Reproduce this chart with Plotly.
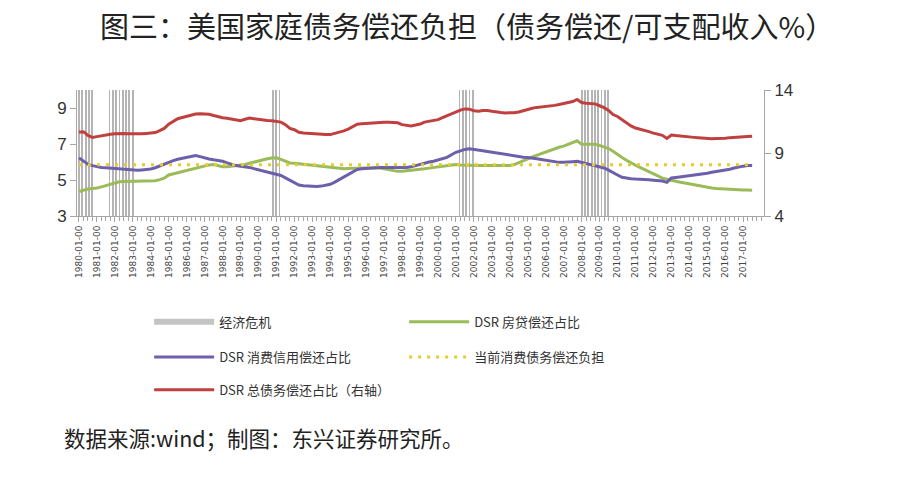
import numpy as np
import plotly.graph_objects as go

# ---------------- data ----------------
# quarterly observations, 1980Q1 .. 2017Q3 (decimal-year positions)
quarters = [1980 + i * 0.25 for i in range(151)]

dsr_total = [  # right axis
    10.64, 10.69, 10.40, 10.24,  10.30, 10.38, 10.43, 10.48,  10.52, 10.56, 10.55, 10.52,
    10.51, 10.50, 10.52, 10.55,  10.56, 10.62, 10.77, 10.95,  11.28, 11.50, 11.72, 11.82,
    11.92, 12.00, 12.10, 12.12,  12.12, 12.08, 11.98, 11.86,  11.80, 11.76, 11.70, 11.60,
    11.57, 11.68, 11.77, 11.72,  11.66, 11.62, 11.58, 11.56,  11.52, 11.45, 11.25, 10.95,
    10.85, 10.65, 10.58, 10.55,  10.52, 10.50, 10.48, 10.47,  10.46, 10.55, 10.68, 10.76,
    10.90, 11.10, 11.28, 11.33,  11.36, 11.40, 11.42, 11.44,  11.45, 11.45, 11.45, 11.40,
    11.25, 11.17, 11.15, 11.22,  11.30, 11.45, 11.52, 11.58,  11.65, 11.80, 11.96, 12.10,
    12.30, 12.40, 12.50, 12.48,  12.35, 12.32, 12.38, 12.38,  12.32, 12.25, 12.22, 12.18,
    12.17, 12.20, 12.25, 12.35,  12.50, 12.55, 12.62, 12.65,  12.68, 12.72, 12.78, 12.85,
    12.92, 13.00, 13.08, 13.25,  13.00, 12.95, 12.92, 12.90,  12.75, 12.60, 12.38, 12.05,
    11.90, 11.65, 11.35, 11.15,  10.98, 10.90, 10.80, 10.70,  10.58, 10.50, 10.40, 10.16,
    10.43, 10.38, 10.33, 10.30,  10.26, 10.24, 10.21, 10.18,  10.16, 10.14, 10.16, 10.15,
    10.18, 10.22, 10.25, 10.28,  10.32, 10.30, 10.32,
]

dsr_consumer = [
    6.23, 6.05, 5.88, 5.80,  5.74, 5.70, 5.68, 5.66,  5.64, 5.61, 5.59, 5.57,
    5.55, 5.54, 5.56, 5.58,  5.61, 5.68, 5.78, 5.88,  6.00, 6.08, 6.15, 6.20,
    6.25, 6.30, 6.36, 6.30,  6.22, 6.17, 6.12, 6.08,  6.04, 5.95, 5.86, 5.80,
    5.77, 5.74, 5.70, 5.63,  5.56, 5.50, 5.44, 5.38,  5.32, 5.25, 5.12, 4.98,
    4.85, 4.72, 4.68, 4.66,  4.64, 4.64, 4.66, 4.70,  4.76, 4.88, 5.02, 5.18,
    5.30, 5.45, 5.58, 5.62,  5.65, 5.67, 5.68, 5.70,  5.70, 5.70, 5.68, 5.67,
    5.68, 5.70, 5.73, 5.80,  5.88, 5.95, 6.00, 6.04,  6.10, 6.18, 6.26, 6.40,
    6.54, 6.62, 6.70, 6.73,  6.68, 6.65, 6.62, 6.58,  6.54, 6.50, 6.44, 6.40,
    6.36, 6.32, 6.29, 6.27,  6.25, 6.23, 6.18, 6.14,  6.10, 6.05, 6.00, 5.98,
    5.98, 5.98, 6.02, 6.04,  5.98, 5.92, 5.86, 5.80,  5.74, 5.67, 5.55, 5.40,
    5.28, 5.15, 5.10, 5.07,  5.05, 5.05, 5.03, 5.01,  4.99, 4.97, 4.94, 4.87,
    5.11, 5.14, 5.17, 5.20,  5.23, 5.26, 5.30, 5.34,  5.38, 5.43, 5.47, 5.51,
    5.54, 5.60, 5.67, 5.73,  5.77, 5.80, 5.80,
]

dsr_mortgage = [
    4.36, 4.45, 4.50, 4.53,  4.55, 4.62, 4.70, 4.76,  4.83, 4.90, 4.92, 4.92,
    4.92, 4.92, 4.92, 4.92,  4.92, 4.96, 5.02, 5.10,  5.28, 5.34, 5.40, 5.45,
    5.52, 5.58, 5.65, 5.73,  5.78, 5.84, 5.86, 5.80,  5.74, 5.73, 5.76, 5.78,
    5.80, 5.86, 5.93, 6.00,  6.08, 6.14, 6.18, 6.22,  6.23, 6.15, 6.05, 5.95,
    5.93, 5.90, 5.86, 5.82,  5.80, 5.77, 5.74, 5.72,  5.68, 5.64, 5.61, 5.62,
    5.64, 5.66, 5.67, 5.67,  5.67, 5.67, 5.67, 5.66,  5.62, 5.56, 5.50, 5.48,
    5.48, 5.50, 5.54, 5.57,  5.58, 5.62, 5.66, 5.70,  5.73, 5.76, 5.80, 5.84,
    5.86, 5.84, 5.82, 5.80,  5.80, 5.80, 5.80, 5.80,  5.80, 5.80, 5.80, 5.80,
    5.80, 5.86, 5.98, 6.08,  6.18, 6.29, 6.38, 6.48,  6.58, 6.66, 6.75, 6.82,
    6.88, 6.98, 7.12, 7.18,  6.98, 6.98, 6.98, 6.98,  6.92, 6.85, 6.75, 6.60,
    6.40, 6.25, 6.10, 5.95,  5.82, 5.70, 5.58, 5.45,  5.32, 5.20, 5.10, 5.04,
    5.00, 4.95, 4.88, 4.83,  4.78, 4.73, 4.68, 4.64,  4.60, 4.56, 4.53, 4.51,
    4.49, 4.48, 4.47, 4.46,  4.45, 4.44, 4.43,
]

current_burden = 5.85  # flat reference level (left axis)

# recession spans (decimal years) shown as grey stripes
recession_starts = [1980.0, 1981.7, 1990.8, 2001.2, 2008.0]
recession_ends = [1980.85, 1983.05, 1991.3, 2001.95, 2009.6]

tick_years = list(range(1980, 2018))
tick_labels = [f"{y}-01-00" for y in tick_years]

# ---------------- styling ----------------
C_RED = "#C0403F"
C_GREEN = "#9BBB59"
C_PURPLE = "#6E5FAC"
C_YELLOW = "#E6CC2A"
C_GREY = "#C4C4C4"
FONT = "Noto Sans CJK SC"

stripe_x = []
for s, e in zip(recession_starts, recession_ends):
    stripe_x.extend(list(np.arange(s, e + 1e-6, 0.185)))

fig = go.Figure()

fig.add_trace(go.Bar(
    x=stripe_x, y=[7] * len(stripe_x), base=3, width=0.05,
    marker=dict(color="#B4B4B4", line=dict(width=0)),
    yaxis="y", showlegend=False, hoverinfo="skip"))

# legend-only entry for the recession stripes
fig.add_trace(go.Scatter(
    x=[None], y=[None], mode="lines", name="经济危机",
    line=dict(color=C_GREY, width=6), legend="legend"))

fig.add_trace(go.Scatter(
    x=quarters, y=dsr_mortgage, mode="lines", name="DSR 房贷偿还占比",
    line=dict(color=C_GREEN, width=3), legend="legend"))

fig.add_trace(go.Scatter(
    x=quarters, y=dsr_consumer, mode="lines", name="DSR 消费信用偿还占比",
    line=dict(color=C_PURPLE, width=3), legend="legend2"))

fig.add_trace(go.Scatter(
    x=quarters, y=[current_burden] * len(quarters), mode="lines",
    name="当前消费债务偿还负担",
    line=dict(color=C_YELLOW, width=3, dash="3px,6px"), legend="legend2"))

fig.add_trace(go.Scatter(
    x=quarters, y=dsr_total, mode="lines", name="DSR 总债务偿还占比（右轴）",
    line=dict(color=C_RED, width=3), yaxis="y2", legend="legend3"))

leg_common = dict(orientation="h", xanchor="left", yanchor="middle",
                  x=0.105, itemwidth=60, entrywidth=180,
                  font=dict(family=FONT, size=13, color="#333333"),
                  bgcolor="rgba(0,0,0,0)", traceorder="normal")

axis_col = "#A6A6A6"
fig.update_layout(
    width=916, height=490,
    margin=dict(l=77, r=152, t=90, b=274, autoexpand=False),
    paper_bgcolor="white", plot_bgcolor="white",
    bargap=0,
    font=dict(family=FONT, color="#333333"),
    title=dict(text="图三：美国家庭债务偿还负担（债务偿还/可支配收入%）",
               x=0.51, xref="container", xanchor="center",
               y=0.943, yref="container", yanchor="middle",
               font=dict(family=FONT, size=29, color="#222222")),
    xaxis=dict(range=[1979.89, 2018.16], tickmode="array",
               tickvals=tick_years, ticktext=tick_labels, tickangle=-90,
               tickfont=dict(family="DejaVu Sans", size=9, color="#444444"),
               ticks="outside", ticklen=5, tickcolor=axis_col,
               minor=dict(dtick=0.25, tick0=1980, ticks="outside", ticklen=4,
                          tickcolor=axis_col, showgrid=False),
               showline=True, linecolor=axis_col, linewidth=1,
               showgrid=False, zeroline=False),
    yaxis=dict(range=[3, 10], tickvals=[3, 5, 7, 9], ticks="outside",
               ticklen=6, tickcolor=axis_col, showline=True,
               linecolor=axis_col, linewidth=1, showgrid=False, zeroline=False,
               tickfont=dict(family="Liberation Sans", size=17, color="#333333")),
    yaxis2=dict(range=[4, 14], tickvals=[4, 9, 14], overlaying="y", side="right",
                ticks="outside", ticklen=6, tickcolor=axis_col, showline=True,
                linecolor=axis_col, linewidth=1, showgrid=False, zeroline=False,
                tickfont=dict(family="Liberation Sans", size=17, color="#333333")),
    legend=dict(**leg_common, y=-0.84),
    legend2=dict(**leg_common, y=-1.12),
    legend3=dict(**leg_common, y=-1.38),
    annotations=[dict(text="数据来源:wind；制图：东兴证券研究所。",
                      xref="paper", yref="paper", x=-0.022, y=-1.755,
                      xanchor="left", yanchor="middle", showarrow=False,
                      font=dict(family=FONT, size=21.5, color="#222222"))],
)

fig.write_html("out.html")
